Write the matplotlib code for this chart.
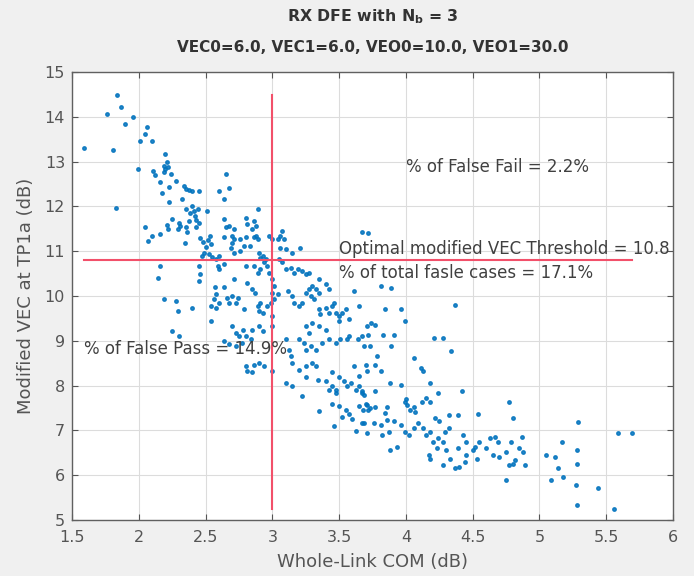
import matplotlib
matplotlib.use("Agg")
import matplotlib.pyplot as plt

# Whole-link COM (dB) vs modified VEC (dB), grouped by COM range
group_low = [
    (1.59, 13.31), (1.76, 14.07), (1.81, 13.27), (1.83, 11.96), (1.84, 14.49),
    (1.87, 14.22), (1.90, 13.83), (1.96, 13.99), (1.995, 12.84), (2.01, 13.47),
    (2.05, 13.62), (2.06, 13.77), (2.10, 13.46), (2.045, 11.53), (2.07, 11.23),
    (2.10, 11.34), (2.11, 12.80), (2.125, 12.69), (2.145, 10.41), (2.16, 10.67),
    (2.16, 11.38), (2.16, 12.54), (2.175, 12.31), (2.19, 12.90), (2.19, 12.76),
    (2.20, 13.17), (2.20, 12.84), (2.21, 12.98), (2.22, 12.87), (2.21, 11.58),
    (2.22, 11.49), (2.19, 9.93), (2.225, 12.43), (2.225, 12.09), (2.24, 12.72),
    (2.25, 11.72), (2.25, 9.22), (2.275, 12.57), (2.275, 9.89), (2.29, 11.49),
    (2.29, 9.66), (2.30, 11.64), (2.30, 9.10), (2.31, 11.57), (2.325, 12.16),
    (2.34, 12.46), (2.345, 11.19), (2.35, 12.39), (2.35, 11.53), (2.36, 11.42),
    (2.375, 12.37), (2.375, 11.68), (2.35, 11.95), (2.38, 11.85), (2.40, 12.35),
    (2.40, 12.02), (2.40, 9.74), (2.41, 11.90), (2.42, 11.78), (2.425, 11.53),
    (2.43, 11.70), (2.44, 11.95), (2.45, 12.35), (2.45, 11.62), (2.45, 10.67),
    (2.45, 10.34), (2.46, 11.30), (2.46, 10.49), (2.475, 10.90), (2.48, 11.20),
    (2.49, 10.97),
]

group_mid = [
    (2.51, 11.90), (2.50, 11.10), (2.52, 11.25), (2.53, 11.35), (2.54, 11.15),
    (2.525, 10.93), (2.55, 10.86), (2.575, 10.82), (2.60, 10.90), (2.59, 10.67),
    (2.60, 10.60), (2.64, 10.71), (2.54, 9.44), (2.57, 10.19), (2.58, 10.04),
    (2.56, 9.93), (2.54, 9.78), (2.575, 9.74), (2.60, 9.85), (2.60, 12.34),
    (2.64, 12.16), (2.65, 12.72), (2.675, 12.41), (2.64, 11.72), (2.65, 11.53),
    (2.675, 11.57), (2.64, 11.31), (2.64, 10.19), (2.66, 9.96), (2.70, 10.00),
    (2.74, 9.96), (2.725, 9.85), (2.675, 9.85), (2.71, 11.49), (2.70, 11.34),
    (2.71, 11.27), (2.70, 11.19), (2.69, 11.08), (2.71, 10.97), (2.71, 10.37),
    (2.76, 11.00), (2.79, 9.70), (2.80, 11.75), (2.81, 11.60), (2.86, 11.68),
    (2.875, 11.57), (2.89, 11.94), (2.85, 11.49), (2.76, 11.27), (2.80, 11.31),
    (2.83, 11.12), (2.86, 11.31), (2.875, 11.34), (2.89, 11.27), (2.79, 11.12),
    (2.80, 10.67), (2.81, 10.30), (2.86, 10.67), (2.89, 10.52), (2.91, 10.60),
    (2.94, 10.75), (2.975, 10.52), (2.96, 10.67), (2.90, 10.95), (2.93, 10.90),
    (2.95, 10.82), (2.91, 10.85), (2.85, 10.15), (2.87, 10.07), (2.91, 9.85),
    (2.89, 9.78), (2.90, 9.66), (2.93, 9.63), (2.96, 9.78), (2.99, 9.85),
    (2.70, 9.33), (2.725, 9.18), (2.75, 9.10), (2.78, 9.25), (2.80, 9.10),
    (2.85, 9.25), (2.90, 9.33), (2.93, 9.22), (2.64, 9.00), (2.675, 8.92),
    (2.725, 8.88), (2.775, 8.95), (2.84, 9.03), (2.80, 8.43), (2.81, 8.32),
    (2.85, 8.30), (2.86, 8.47), (2.90, 8.50), (2.94, 8.43), (2.975, 11.34),
]

group_high = [
    (3.00, 11.27), (3.04, 11.27), (3.06, 11.34), (3.075, 11.46), (3.09, 11.27),
    (3.06, 11.08), (3.10, 11.04), (3.15, 10.97), (3.21, 11.08), (3.00, 10.37),
    (3.01, 10.22), (3.00, 10.07), (3.01, 9.93), (3.04, 10.04), (3.00, 9.55),
    (3.00, 9.33), (3.00, 8.32), (3.05, 10.82), (3.075, 10.75), (3.10, 10.60),
    (3.14, 10.63), (3.165, 10.52), (3.19, 10.60), (3.225, 10.56), (3.25, 10.49),
    (3.275, 10.52), (3.12, 10.11), (3.15, 10.00), (3.165, 9.85), (3.20, 9.78),
    (3.225, 9.85), (3.25, 10.07), (3.275, 10.15), (3.30, 10.22), (3.325, 10.15),
    (3.35, 10.07), (3.29, 10.00), (3.31, 9.93), (3.35, 10.37), (3.40, 10.26),
    (3.425, 10.15), (3.35, 9.70), (3.36, 9.59), (3.40, 9.74), (3.425, 9.63),
    (3.45, 9.78), (3.475, 9.63), (3.50, 9.55), (3.525, 9.63), (3.55, 9.70),
    (3.575, 9.48), (3.50, 9.44), (3.46, 9.85), (3.10, 9.03), (3.125, 8.80),
    (3.14, 8.66), (3.15, 8.51), (3.20, 9.03), (3.24, 8.96), (3.25, 8.80),
    (3.29, 8.88), (3.325, 8.80), (3.375, 8.96), (3.425, 9.03), (3.475, 8.96),
    (3.51, 9.03), (3.56, 9.03), (3.575, 9.10), (3.64, 9.03), (3.25, 9.33),
    (3.30, 9.40), (3.35, 9.33), (3.40, 9.25), (3.275, 9.18), (3.20, 8.35),
    (3.25, 8.43), (3.30, 8.50), (3.325, 8.43), (3.25, 8.20), (3.34, 8.13),
    (3.40, 8.10), (3.45, 7.98), (3.45, 8.30), (3.50, 8.20), (3.475, 7.91),
    (3.54, 8.10), (3.56, 7.98), (3.425, 7.91), (3.475, 7.84), (3.59, 8.06),
    (3.625, 7.91), (3.65, 7.98), (3.675, 7.84), (3.10, 8.06), (3.15, 7.99),
    (3.225, 7.76), (3.35, 7.43), (3.45, 7.60), (3.50, 7.54), (3.55, 7.46),
    (3.575, 7.36), (3.60, 7.25), (3.525, 7.30), (3.65, 7.54), (3.70, 7.60),
    (3.72, 7.46), (3.46, 7.09), (3.625, 6.98), (3.675, 7.16), (3.71, 6.94),
    (3.61, 10.11), (3.65, 9.78), (3.61, 8.43), (3.65, 8.21), (3.70, 8.47),
    (3.71, 9.33), (3.675, 9.10),
]

group_tail = [
    (3.67, 11.42), (3.72, 11.40), (3.81, 10.22), (3.89, 10.17), (4.37, 9.81),
    (3.84, 9.70), (3.96, 9.70), (3.99, 9.44), (3.74, 9.40), (3.77, 9.35),
    (3.72, 9.14), (3.83, 9.14), (3.91, 9.14), (3.69, 8.88), (3.73, 8.88),
    (3.89, 8.88), (4.21, 9.07), (4.28, 9.07), (4.34, 8.78), (4.06, 8.62),
    (4.11, 8.39), (4.13, 8.32), (3.78, 8.66), (3.77, 8.47), (3.71, 8.32),
    (3.81, 8.32), (3.88, 8.06), (3.96, 8.02), (4.18, 8.06), (4.24, 7.83),
    (4.42, 7.87), (3.69, 7.80), (3.67, 7.87), (3.77, 7.87), (3.71, 7.57),
    (3.73, 7.50), (3.77, 7.53), (3.68, 7.46), (3.86, 7.53), (3.84, 7.38),
    (3.86, 7.23), (3.99, 7.64), (4.01, 7.57), (4.03, 7.46), (4.07, 7.42),
    (4.06, 7.53), (4.00, 7.70), (4.12, 7.64), (4.15, 7.72), (4.18, 7.64),
    (4.22, 7.27), (4.25, 7.20), (4.32, 7.35), (4.39, 7.35), (4.54, 7.36),
    (4.77, 7.64), (4.80, 7.27), (5.29, 7.18), (5.59, 6.94), (5.69, 6.94),
    (3.69, 7.16), (3.76, 7.16), (3.81, 7.12), (3.82, 6.90), (3.87, 6.97),
    (3.91, 7.20), (3.96, 7.12), (3.99, 6.97), (4.02, 6.90), (4.06, 7.05),
    (4.09, 7.16), (4.13, 7.05), (4.18, 6.97), (4.15, 6.90), (4.20, 6.75),
    (4.24, 6.82), (4.29, 6.97), (4.32, 7.05), (4.28, 6.75), (4.23, 6.60),
    (3.88, 6.56), (3.93, 6.64), (4.17, 6.45), (4.18, 6.37), (4.30, 6.56),
    (4.33, 6.37), (4.28, 6.23), (4.37, 6.15), (4.40, 6.19), (4.39, 6.60),
    (4.43, 6.90), (4.45, 6.75), (4.50, 6.56), (4.53, 6.37), (4.52, 6.64),
    (4.45, 6.45), (4.44, 6.30), (4.55, 6.75), (4.60, 6.60), (4.63, 6.82),
    (4.67, 6.86), (4.69, 6.75), (4.87, 6.86), (4.79, 6.75), (4.85, 6.60),
    (4.88, 6.52), (4.82, 6.34), (4.80, 6.26), (4.77, 6.23), (4.89, 6.23),
    (4.65, 6.45), (4.70, 6.41), (4.75, 6.52), (5.05, 6.45), (5.12, 6.41),
    (5.17, 6.75), (5.14, 6.15), (5.18, 5.96), (5.28, 6.56), (5.28, 6.26),
    (5.27, 5.78), (5.28, 5.33), (5.09, 5.89), (4.75, 5.89), (5.44, 5.72),
    (5.56, 5.24),
]

com_threshold = 3.0
vec_threshold = 10.8
false_fail_pct = 2.2
false_pass_pct = 14.9
total_false_pct = 17.1

xticks = [1.5, 2, 2.5, 3, 3.5, 4, 4.5, 5, 5.5, 6]
yticks = [5, 6, 7, 8, 9, 10, 11, 12, 13, 14, 15]

points = group_low + group_mid + group_high + group_tail
com = [p[0] for p in points]
vec = [p[1] for p in points]

plt.rcParams['font.family'] = ['DejaVu Sans']
grey_bg = (0.94, 0.94, 0.94)
txt = '#404040'

fig = plt.figure(figsize=(6.94, 5.76), dpi=100, facecolor=grey_bg)
ax = fig.add_axes([72 / 694, 1 - 520 / 576, 601 / 694, 448 / 576])
ax.set_facecolor('white')

ax.plot(com, vec, '.', color='#0072bd', markersize=5, alpha=0.85, zorder=3)

# threshold cross spanning the data extent
red = '#f2506a'
ax.plot([min(com), max(com)], [vec_threshold, vec_threshold], color=red, lw=1.5, zorder=4)
ax.plot([com_threshold, com_threshold], [min(vec), max(vec)], color=red, lw=1.5, zorder=4)

ax.set_xlim(1.5, 6)
ax.set_ylim(5, 15)
ax.set_xticks(xticks)
ax.set_xticklabels([f'{t:g}' for t in xticks])
ax.set_yticks(yticks)
ax.set_yticklabels([f'{t:g}' for t in yticks])
ax.grid(True, color='#dcdcdc', lw=0.8)
ax.set_axisbelow(True)
ax.tick_params(direction='in', length=4, top=True, right=True, colors='#555555',
               labelcolor='#555555', labelsize=11.5)
ax.tick_params(axis='x', pad=7)
ax.tick_params(axis='y', pad=5)
for s in ax.spines.values():
    s.set_color('#606060')
    s.set_linewidth(1.0)

ax.set_xlabel('Whole-Link COM (dB)', fontsize=13, color='#555555', labelpad=6)
ax.set_ylabel('Modified VEC at TP1a (dB)', fontsize=13, color='#555555', labelpad=7)

# two-line title centred over the axes
title_x = (72 + 673) / 2 / 694
fig.text(title_x, 1 - 17 / 576, r'RX DFE with $\mathbf{N_b}$ = 3', ha='center', va='center',
         fontsize=11.3, fontweight='bold', color='#333333')
fig.text(title_x, 1 - 47 / 576, 'VEC0=6.0, VEC1=6.0, VEO0=10.0, VEO1=30.0', ha='center',
         va='center', fontsize=11.0, fontweight='bold', color='#333333')

fs = 12
ax.text(4.0, 12.88, f'% of False Fail = {false_fail_pct}%', fontsize=fs, color=txt,
        va='center', ha='left', zorder=5)
ax.text(3.5, 11.05, f'Optimal modified VEC Threshold = {vec_threshold}', fontsize=fs,
        color=txt, va='center', ha='left', clip_on=False, zorder=5)
ax.text(3.5, 10.52, f'% of total fasle cases = {total_false_pct}%', fontsize=fs,
        color=txt, va='center', ha='left', zorder=5)
ax.text(1.59, 8.81, f'% of False Pass = {false_pass_pct}%', fontsize=fs, color=txt,
        va='center', ha='left', zorder=5)

fig.savefig('out.png', dpi=100, facecolor=grey_bg)
